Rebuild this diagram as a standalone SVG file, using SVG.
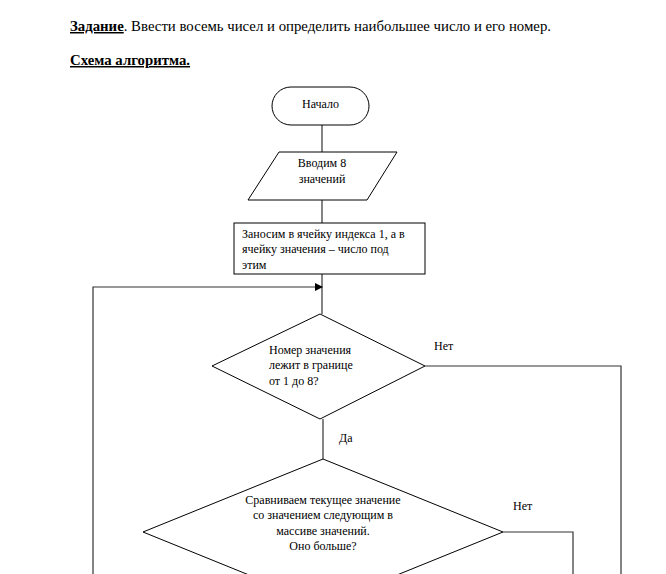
<svg xmlns="http://www.w3.org/2000/svg" width="666" height="574" viewBox="0 0 666 574">
<style>
.t{font-family:"Liberation Serif","Times New Roman",serif;font-size:12px;fill:#000}
.h{font-family:"Liberation Serif","Times New Roman",serif;font-size:14.8px;fill:#000}
.s{fill:#fff;stroke:#000;stroke-width:1}
.c{fill:none;stroke:#333;stroke-width:1.2}
</style>
<defs>
<marker id="ah" markerWidth="8" markerHeight="8" refX="7" refY="4" orient="auto" markerUnits="userSpaceOnUse">
<path d="M0,0 L8,4 L0,8 Z" fill="#000"/>
</marker>
</defs>
<rect width="666" height="574" fill="#fff"/>
<g id="header">
<text class="h" x="70" y="31"><tspan font-weight="bold" text-decoration="underline">Задание</tspan>. Ввести восемь чисел и определить наибольшее число и его номер.</text>
<text class="h" x="70" y="65" font-weight="bold" text-decoration="underline">Схема алгоритма.</text>
</g>
<g id="connectors">
<path class="c" d="M322,125 V152"/>
<path class="c" d="M322,200 V223"/>
<path class="c" d="M322,274 V314"/>
<path class="c" d="M93,574 V287 H322" marker-end="url(#ah)"/>
<path class="c" d="M425,366 H621 V574"/>
<path class="c" d="M323,419 V459"/>
<path class="c" d="M503,532 H573 V574"/>
<text class="t" x="434" y="350">Нет</text>
<text class="t" x="339" y="442">Да</text>
<text class="t" x="513" y="510">Нет</text>
</g>
<g id="start">
<rect class="s" x="272" y="87" width="97" height="38" rx="19"/>
<text class="t" x="320.5" y="108" text-anchor="middle">Начало</text>
</g>
<g id="input">
<polygon class="s" points="279,152 397,152 367,200 248,200"/>
<text class="t" x="322" y="167" text-anchor="middle">Вводим 8</text>
<text class="t" x="322" y="183" text-anchor="middle">значений</text>
</g>
<g id="init">
<rect class="s" x="234" y="223" width="191" height="51"/>
<text class="t" x="242" y="238">Заносим в ячейку индекса 1, а в</text>
<text class="t" x="242" y="253">ячейку значения – число под</text>
<text class="t" x="242" y="269">этим</text>
</g>
<g id="check">
<polygon class="s" points="320,314 425,366 320,419 212,366"/>
<text class="t" x="269" y="354">Номер значения</text>
<text class="t" x="269" y="369">лежит в границе</text>
<text class="t" x="269" y="385">от 1 до 8?</text>
</g>
<g id="compare">
<polygon class="s" points="323,459 503,532 323,605 143,532"/>
<text class="t" x="323" y="504" text-anchor="middle">Сравниваем текущее значение</text>
<text class="t" x="323" y="519" text-anchor="middle">со значением следующим в</text>
<text class="t" x="323" y="535" text-anchor="middle">массиве значений.</text>
<text class="t" x="323" y="550" text-anchor="middle">Оно больше?</text>
</g>
</svg>
